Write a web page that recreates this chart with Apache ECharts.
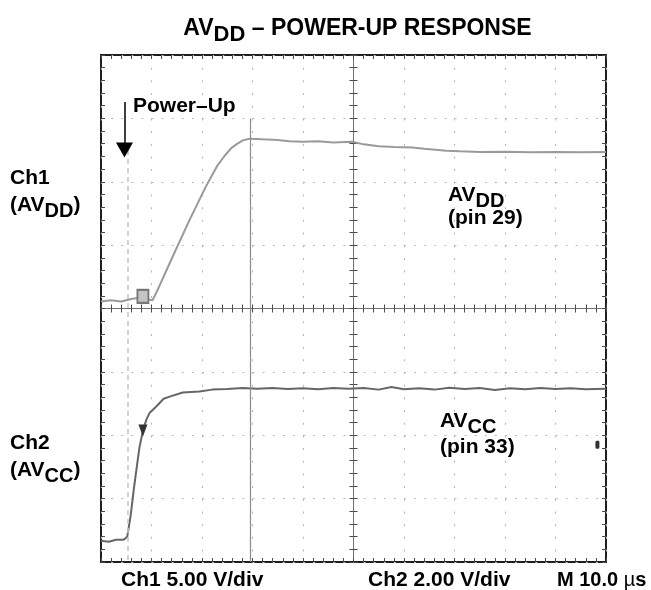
<!DOCTYPE html>
<html>
<head>
<meta charset="utf-8">
<script src="https://cdn.jsdelivr.net/npm/echarts@6/dist/echarts.min.js"></script>
<style>
  html, body { margin: 0; padding: 0; background: #fff; }
  #chart { width: 651px; height: 590px; }
</style>
</head>
<body>
<div id="chart"></div>
<script>
// ---- Scope settings -------------------------------------------------------
const timeRange = [0, 100];          // µs across the screen (10 div x 10 µs)
const timePerDiv = 10;               // µs/div
const divRange = [-4, 4];            // vertical graticule, divisions
const ch1VoltsPerDiv = 5.0;          // V/div
const ch2VoltsPerDiv = 2.0;          // V/div
const ch1GroundDiv = 0.13;           // ground reference position of Ch1 (div)
const ch2GroundDiv = -3.65;          // ground reference position of Ch2 (div)

// ---- Ch1: AVDD (pin 29) ---------------------------------------------------
const ch1Time = [0, 2, 4, 6, 7.5, 9, 10.2, 10.9, 14.2, 17.5, 20.8, 23.0, 24.5, 25.8, 26.8, 28.0,
  29.5, 32, 35, 37.3, 40, 43, 46, 49.8, 52, 55, 58, 61.7, 64, 68.4, 71, 75, 80, 85, 90, 95, 100];
const ch1Volts = [-0.1, 0.0, -0.1, 0.1, 0.2, 0.1, 0.0, 0.55, 3.45, 6.3, 9.0, 10.6, 11.4, 12.0, 12.3, 12.6,
  12.75, 12.7, 12.65, 12.55, 12.5, 12.55, 12.45, 12.5, 12.3, 12.15, 12.1, 12.05, 11.95, 11.8, 11.75,
  11.7, 11.72, 11.68, 11.7, 11.68, 11.7];

// ---- Ch2: AVCC (pin 33) ---------------------------------------------------
const ch2Time = [0, 1.5, 3.0, 4.5, 5.2, 5.9, 6.5, 7.0, 7.6, 8.3, 9.0, 9.6, 10.9, 12.4, 13.6, 16.2,
  19.5, 22, 25, 28, 31, 34, 37, 40, 43, 46, 49, 52, 55, 57.5, 60, 63, 66, 69, 72, 75, 78, 81,
  84, 87, 90, 93, 96, 100];
const ch2Volts = [-0.03, -0.06, 0.0, 0.0, 0.1, 0.8, 1.6, 2.2, 2.9, 3.45, 3.8, 4.0, 4.2, 4.45,
  4.52, 4.65, 4.68, 4.74, 4.76, 4.79, 4.77, 4.79, 4.76, 4.78, 4.75, 4.79, 4.77, 4.79, 4.74, 4.82,
  4.75, 4.78, 4.74, 4.80, 4.76, 4.79, 4.73, 4.78, 4.75, 4.79, 4.76, 4.78, 4.75, 4.77];

// ---- Annotation positions (axis units) -------------------------------------
const powerUpTime = 5.2;             // µs, power applied
const arrowTime = 4.65;              // µs
const arrowSpanDiv = [3.26, 2.5];    // arrow from / to (div)
const cursorTime = 29.5;             // µs
const cursorSpanDiv = [3, -4];
const ch1MarkerAt = [8.3, 0.3];      // [µs, V]
const ch2MarkerAt = [8.3, 3.45];     // [µs, V]
const ch2EdgeMarkAt = [98.3, 3.0];   // [µs, V]

const GRID = { left: 101, top: 55, width: 505, height: 507 };
const FONT = '"Liberation Sans", Arial, Helvetica, sans-serif';

const zip = (xs, ys) => xs.map((x, i) => [x, ys[i]]);

const tickStyle = { color: '#4a4a4a', width: 1 };
const dotColor = '#b8b8b8';

function timeAxis(position, offset, withSplit, lineShow) {
  return {
    type: 'value', min: timeRange[0], max: timeRange[1], interval: timePerDiv,
    position: position, offset: offset,
    axisLabel: { show: false },
    axisLine: { show: lineShow, onZero: false, lineStyle: { color: '#707070', width: 1 } },
    axisTick: { show: true, inside: true, length: 4, lineStyle: tickStyle },
    minorTick: { show: true, splitNumber: 5, length: 4, lineStyle: tickStyle },
    splitLine: { show: withSplit, lineStyle: { color: dotColor, width: 1.2, type: [2, 10.68] } },
    minorSplitLine: { show: false }
  };
}
function divAxis(position, offset, withSplit, lineShow) {
  return {
    type: 'value', min: divRange[0], max: divRange[1], interval: 1,
    position: position, offset: offset,
    axisLabel: { show: false },
    axisLine: { show: lineShow, onZero: false, lineStyle: { color: '#707070', width: 1 } },
    axisTick: { show: true, inside: true, length: 4, lineStyle: tickStyle },
    minorTick: { show: true, splitNumber: 5, length: 4, lineStyle: tickStyle },
    splitLine: { show: withSplit, lineStyle: { color: dotColor, width: 1.2, type: [2, 8.1] } },
    minorSplitLine: { show: false }
  };
}
function voltAxis(voltsPerDiv, groundDiv) {
  return {
    type: 'value', show: false,
    min: (divRange[0] - groundDiv) * voltsPerDiv,
    max: (divRange[1] - groundDiv) * voltsPerDiv,
    splitLine: { show: false }
  };
}

// rich-text styles: normal run and lowered subscript run
function richFor(size) {
  return {
    n: { font: 'bold ' + size + 'px ' + FONT, fill: '#000', lineHeight: size + 3, verticalAlign: 'top' },
    s: { font: 'bold ' + (size - 1) + 'px ' + FONT, fill: '#000', lineHeight: size + 3,
         padding: [Math.round(size * 0.3), 0, 0, 0], verticalAlign: 'top' },
    u: { font: size + 'px ' + FONT, fill: '#000', lineHeight: size + 3, verticalAlign: 'top' }
  };
}
function label(x, y, text, size, align) {
  return {
    type: 'text', x: x, y: y, z: 100,
    style: {
      text: text, rich: richFor(size), font: 'bold ' + size + 'px ' + FONT,
      fill: '#000', align: align || 'left', verticalAlign: 'top'
    }
  };
}

const chart = echarts.init(document.getElementById('chart'), null, { renderer: 'canvas' });

const option = {
  animation: false,
  backgroundColor: '#ffffff',
  grid: {
    left: GRID.left, top: GRID.top, width: GRID.width, height: GRID.height,
    show: true, borderColor: '#1e1e1e', borderWidth: 2, backgroundColor: 'transparent',
    containLabel: false
  },
  xAxis: [
    timeAxis('bottom', 0, true, false),
    timeAxis('top', 0, false, false),
    timeAxis('bottom', -GRID.height / 2, false, true),
    timeAxis('top', -GRID.height / 2, false, false)
  ],
  yAxis: [
    divAxis('left', 0, true, false),
    divAxis('right', 0, false, false),
    divAxis('left', -GRID.width / 2, false, true),
    divAxis('right', -GRID.width / 2, false, false),
    voltAxis(ch1VoltsPerDiv, ch1GroundDiv),
    voltAxis(ch2VoltsPerDiv, ch2GroundDiv)
  ],
  series: [
    {
      name: 'markers', type: 'line', xAxisIndex: 0, yAxisIndex: 0, data: [],
      silent: true,
      markLine: {
        silent: true, animation: false,
        label: { show: false },
        emphasis: { disabled: true },
        data: [
          [
            { coord: [cursorTime, cursorSpanDiv[0]], symbol: 'none', lineStyle: { color: '#8c8c8c', width: 1.2, type: 'solid' } },
            { coord: [cursorTime, cursorSpanDiv[1]], symbol: 'none' }
          ],
          [
            { coord: [powerUpTime, arrowSpanDiv[1]], symbol: 'none', lineStyle: { color: '#c4c4c4', width: 1.5, type: [5, 4] } },
            { coord: [powerUpTime, divRange[0]], symbol: 'none' }
          ],
          [
            { coord: [arrowTime, arrowSpanDiv[0]], symbol: 'none', lineStyle: { color: '#000', width: 1.5, type: 'solid' } },
            { coord: [arrowTime, arrowSpanDiv[1]], symbol: 'triangle', symbolSize: [17, 15] }
          ]
        ]
      }
    },
    {
      name: 'AVDD', type: 'line', xAxisIndex: 0, yAxisIndex: 4,
      data: zip(ch1Time, ch1Volts),
      showSymbol: false, smooth: false,
      lineStyle: { color: '#9a9a9a', width: 2 },
      markPoint: {
        silent: true, label: { show: false },
        data: [{ coord: ch1MarkerAt, symbol: 'rect', symbolSize: [11, 13],
                 itemStyle: { color: '#c4c4c4', borderColor: '#777', borderWidth: 2 } }]
      }
    },
    {
      name: 'AVCC', type: 'line', xAxisIndex: 0, yAxisIndex: 5,
      data: zip(ch2Time, ch2Volts),
      showSymbol: false, smooth: false,
      lineStyle: { color: '#666666', width: 2 },
      markPoint: {
        silent: true, label: { show: false },
        data: [
          { coord: ch2MarkerAt, symbol: 'triangle', symbolRotate: 180, symbolSize: [9, 12],
            itemStyle: { color: '#333' } },
          { coord: ch2EdgeMarkAt, symbol: 'roundRect', symbolSize: [4, 8],
            itemStyle: { color: '#333' } }
        ]
      }
    }
  ],
  graphic: [
    label(GRID.left + GRID.width / 2 + 4, 17, '{n|AV}{s|DD}{n| – POWER-UP RESPONSE}', 23, 'center'),
    label(10, 168, '{n|Ch1}', 21),
    label(10, 195, '{n|(AV}{s|DD}{n|)}', 21),
    label(10, 433, '{n|Ch2}', 21),
    label(10, 460, '{n|(AV}{s|CC}{n|)}', 21),
    label(133, 96, '{n|Power–Up}', 21),
    label(448, 185, '{n|AV}{s|DD}', 21),
    label(448, 208, '{n|(pin 29)}', 21),
    label(440, 411, '{n|AV}{s|CC}', 21),
    label(440, 437, '{n|(pin 33)}', 21),
    label(121, 570, '{n|Ch1 5.00 V/div}', 21),
    label(368, 570, '{n|Ch2 2.00 V/div}', 21),
    label(557, 570, '{n|M 10.0 }{u|µ}{n|s}', 20)
  ]
};

chart.setOption(option);
</script>
</body>
</html>
